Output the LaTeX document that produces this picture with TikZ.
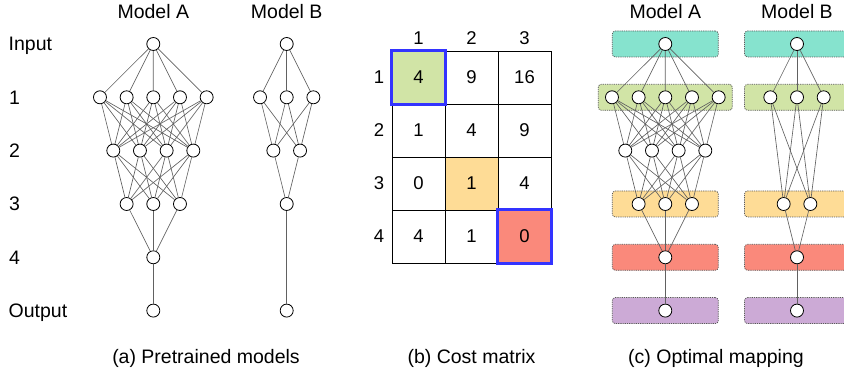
\documentclass[tikz,border=0pt]{standalone}
\usepackage{fontspec}
\setmainfont{Liberation Sans}
\definecolor{cteal}{RGB}{134,227,206}
\definecolor{cgreen}{RGB}{209,228,166}
\definecolor{corange}{RGB}{254,220,150}
\definecolor{cred}{RGB}{250,137,123}
\definecolor{cpurple}{RGB}{204,170,214}
\definecolor{cblue}{RGB}{51,51,255}
\begin{document}
\begin{tikzpicture}[x=1pt,y=-1pt,
  neuron/.style={circle,draw=black,fill=white,line width=0.8pt,minimum size=13pt,inner sep=0pt},
  link/.style={draw=black!62,line width=0.65pt},
  lbl/.style={font=\fontsize{19.5}{22}\selectfont,inner sep=0pt},
  num/.style={font=\fontsize{18.5}{22}\selectfont,inner sep=0pt},
  layerbox/.style={rounded corners=3pt,draw=black!65,dash pattern=on 1.2pt off 1pt,line width=0.7pt,minimum height=26pt,inner sep=0pt},
  cell/.style={draw=black,line width=0.8pt,minimum size=53pt,inner sep=0pt,font=\fontsize{18.5}{22}\selectfont},
  pick/.style={draw=cblue,line width=2.6pt},
]
\useasboundingbox (0,0) rectangle (844,371);

% ---------- layer boxes of panel (c) ----------
\node[layerbox,fill=cteal,minimum width=106pt]   (bxAin)  at (665.3,44) {};
\node[layerbox,fill=cgreen,minimum width=134pt]  (bxA1)   at (665.3,97.3) {};
\node[layerbox,fill=corange,minimum width=106pt] (bxA3)   at (665.3,204) {};
\node[layerbox,fill=cred,minimum width=106pt]    (bxA4)   at (665.3,257.3) {};
\node[layerbox,fill=cpurple,minimum width=106pt] (bxAout) at (665.3,310.6) {};
\node[layerbox,fill=cteal,minimum width=106pt]   (bxBin)  at (797.5,44) {};
\node[layerbox,fill=cgreen,minimum width=106pt]  (bxB1)   at (797.5,97.3) {};
\node[layerbox,fill=corange,minimum width=106pt] (bxB3)   at (797.5,204) {};
\node[layerbox,fill=cred,minimum width=106pt]    (bxB4)   at (797.5,257.3) {};
\node[layerbox,fill=cpurple,minimum width=106pt] (bxBout) at (797.5,310.6) {};

% ---------- Model A (panels a and c) ----------
\foreach \p/\cx in {a/153.3,c/665.3}{
  \node[neuron] (\p Ain) at (\cx,44) {};
  \foreach \i in {1,...,5} \node[neuron] (\p A1\i) at ({\cx-53.33+26.67*(\i-1)},97.3) {};
  \foreach \i in {1,...,4} \node[neuron] (\p A2\i) at ({\cx-40+26.67*(\i-1)},150.6) {};
  \foreach \i in {1,...,3} \node[neuron] (\p A3\i) at ({\cx-26.67+26.67*(\i-1)},204) {};
  \node[neuron] (\p A4) at (\cx,257.3) {};
  \node[neuron] (\p Aout) at (\cx,310.6) {};
  \foreach \i in {1,...,5} \draw[link] (\p Ain) -- (\p A1\i);
  \foreach \i in {1,...,5} \foreach \j in {1,...,4} \draw[link] (\p A1\i) -- (\p A2\j);
  \foreach \i in {1,...,4} \foreach \j in {1,...,3} \draw[link] (\p A2\i) -- (\p A3\j);
  \foreach \i in {1,...,3} \draw[link] (\p A3\i) -- (\p A4);
  \draw[link] (\p A4) -- (\p Aout);
}

% ---------- Model B (panels a and c) ----------
\foreach \p/\cx/\ytwo/\ythree in {a/286.7/150.6/204,c/797/204/257.3}{
  \node[neuron] (\p Bin) at (\cx,44) {};
  \foreach \i in {1,...,3} \node[neuron] (\p B1\i) at ({\cx-26.67+26.67*(\i-1)},97.3) {};
  \foreach \i in {1,...,2} \node[neuron] (\p B2\i) at ({\cx-13.33+26.67*(\i-1)},\ytwo) {};
  \node[neuron] (\p B3) at (\cx,\ythree) {};
  \node[neuron] (\p Bout) at (\cx,310.6) {};
  \foreach \i in {1,...,3} \draw[link] (\p Bin) -- (\p B1\i);
  \foreach \i in {1,...,3} \foreach \j in {1,...,2} \draw[link] (\p B1\i) -- (\p B2\j);
  \foreach \i in {1,...,2} \draw[link] (\p B2\i) -- (\p B3);
  \draw[link] (\p B3) -- (\p Bout);
}

% ---------- panel (a) labels ----------
\node[lbl,anchor=base] (tAa) at (153.3,19) {Model A};
\node[lbl,anchor=base] (tBa) at (286.7,19) {Model B};
\node[lbl,anchor=base west] (rIn) at (8.5,51) {Input};
\node[lbl,anchor=base west] (r1) at (9,104.3) {1};
\node[lbl,anchor=base west] (r2) at (9,157.6) {2};
\node[lbl,anchor=base west] (r3) at (9,211) {3};
\node[lbl,anchor=base west] (r4) at (9,264.3) {4};
\node[lbl,anchor=base west] (rOut) at (8.5,317.6) {Output};
\node[lbl,anchor=base] (capa) at (206,364) {(a) Pretrained models};

% ---------- panel (b) cost matrix ----------
\foreach \r/\vals in {1/{4,9,16},2/{1,4,9},3/{0,1,4},4/{4,1,0}}{
  \foreach \v [count=\c] in \vals {
    \node[cell] (m\r\c) at ({392+53*(\c-0.5)},{51+53*(\r-0.5)}) {\v};
  }
}
\node[cell,fill=cgreen]  at (m11) {4};
\node[cell,fill=corange] at (m32) {1};
\node[cell,fill=cred]    at (m43) {0};
\draw[pick] (m11.north west) rectangle (m11.south east);
\draw[pick] (m43.north west) rectangle (m43.south east);
\foreach \c in {1,2,3} \node[num,anchor=base] (ch\c) at ({392+53*(\c-0.5)},45) {\c};
\foreach \r in {1,2,3,4} \node[num] (rh\r) at (379,{51+53*(\r-0.5)}) {\r};
\node[lbl,anchor=base] (capb) at (471.5,364) {(b) Cost matrix};

% ---------- panel (c) labels ----------
\node[lbl,anchor=base] (tAc) at (665.3,19) {Model A};
\node[lbl,anchor=base] (tBc) at (797,19) {Model B};
\node[lbl,anchor=base] (capc) at (716,364) {(c) Optimal mapping};
\end{tikzpicture}
\end{document}
